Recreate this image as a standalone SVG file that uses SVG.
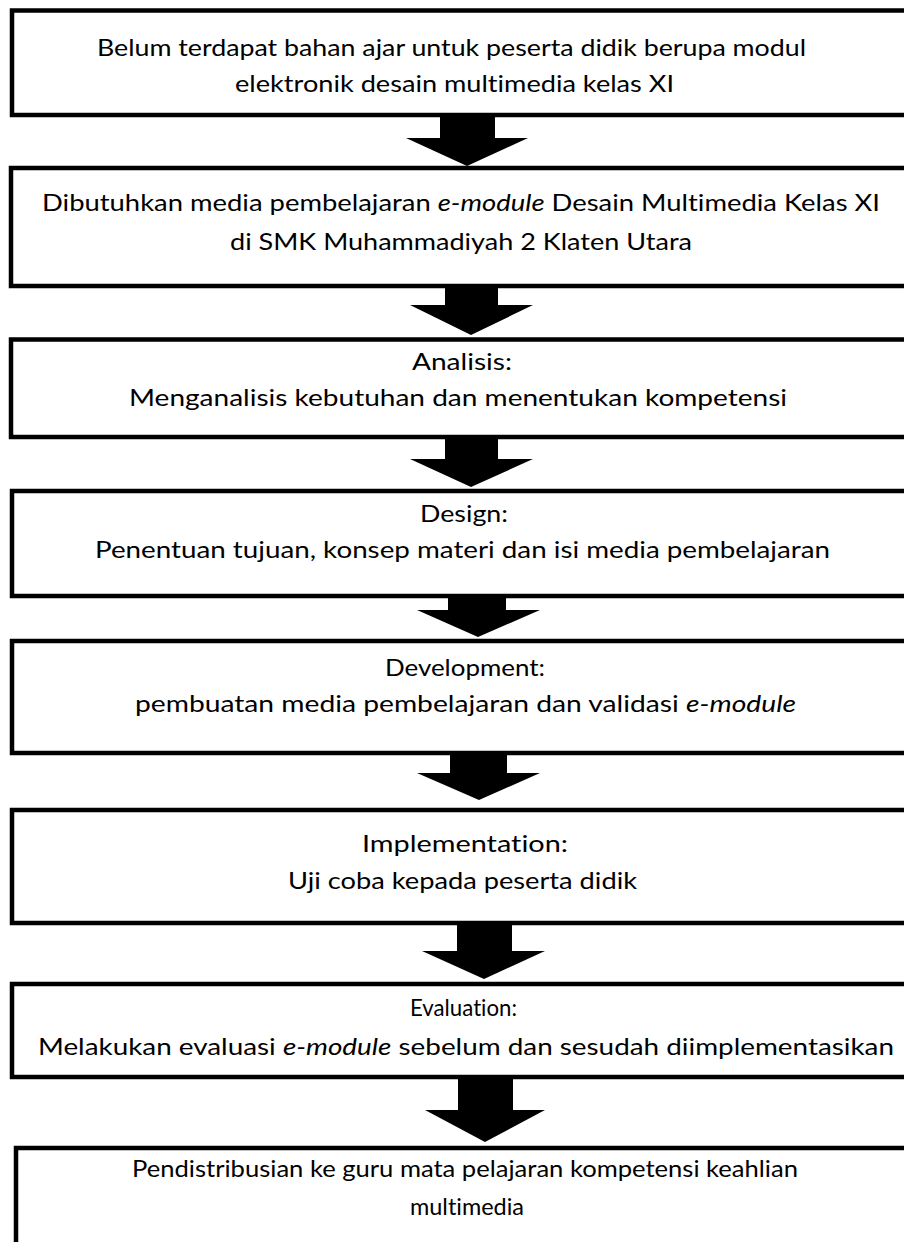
<svg xmlns="http://www.w3.org/2000/svg" width="904" height="1242" viewBox="0 0 904 1242">
<style>
.box{fill:#fff;stroke:#000;stroke-width:4.5}
.t{font-family:Lato,"Open Sans","Liberation Sans",sans-serif;font-size:23px;fill:#000;text-anchor:middle;font-variant-ligatures:none;font-feature-settings:"liga" 0,"dlig" 0}
.i{font-style:italic}
.arr{fill:#000}
</style>
<rect width="904" height="1242" fill="#fff"/>
<g id="n1"><rect class="box" x="12" y="10.5" width="900" height="104.5"/>
<text class="t" x="451.5" y="56" textLength="709" lengthAdjust="spacingAndGlyphs">Belum terdapat bahan ajar untuk peserta didik berupa modul</text>
<text class="t" x="454.5" y="92" textLength="439" lengthAdjust="spacingAndGlyphs">elektronik desain multimedia kelas XI</text></g>
<g id="n2"><rect class="box" x="11" y="168" width="901" height="118"/>
<text class="t" x="461" y="211" textLength="838" lengthAdjust="spacingAndGlyphs">Dibutuhkan media pembelajaran <tspan class="i">e-module</tspan> Desain Multimedia Kelas XI</text>
<text class="t" x="461" y="250" textLength="462" lengthAdjust="spacingAndGlyphs">di SMK Muhammadiyah 2 Klaten Utara</text></g>
<g id="n3"><rect class="box" x="11" y="339.5" width="901" height="97.5"/>
<text class="t" x="462" y="370" textLength="100" lengthAdjust="spacingAndGlyphs">Analisis:</text>
<text class="t" x="458" y="406" textLength="658" lengthAdjust="spacingAndGlyphs">Menganalisis kebutuhan dan menentukan kompetensi</text></g>
<g id="n4"><rect class="box" x="12" y="491" width="900" height="105"/>
<text class="t" x="464" y="522" textLength="88" lengthAdjust="spacingAndGlyphs">Design:</text>
<text class="t" x="462.5" y="558" textLength="735" lengthAdjust="spacingAndGlyphs">Penentuan tujuan, konsep materi dan isi media pembelajaran</text></g>
<g id="n5"><rect class="box" x="12" y="641" width="900" height="112"/>
<text class="t" x="465" y="676" textLength="160" lengthAdjust="spacingAndGlyphs">Development:</text>
<text class="t" x="465.5" y="712" textLength="661" lengthAdjust="spacingAndGlyphs">pembuatan media pembelajaran dan validasi <tspan class="i">e-module</tspan></text></g>
<g id="n6"><rect class="box" x="12" y="810" width="900" height="113"/>
<text class="t" x="465" y="852" textLength="206" lengthAdjust="spacingAndGlyphs">Implementation:</text>
<text class="t" x="462.5" y="889" textLength="349" lengthAdjust="spacingAndGlyphs">Uji coba kepada peserta didik</text></g>
<g id="n7"><rect class="box" x="12" y="984" width="900" height="93"/>
<text class="t" x="463.5" y="1016" textLength="107" lengthAdjust="spacingAndGlyphs">Evaluation:</text>
<text class="t" x="466" y="1055" textLength="856" lengthAdjust="spacingAndGlyphs">Melakukan evaluasi <tspan class="i">e-module</tspan> sebelum dan sesudah diimplementasikan</text></g>
<g id="n8"><rect class="box" x="16" y="1148" width="896" height="120"/>
<text class="t" x="465" y="1177" textLength="666" lengthAdjust="spacingAndGlyphs">Pendistribusian ke guru mata pelajaran kompetensi keahlian</text>
<text class="t" x="467" y="1215" textLength="114" lengthAdjust="spacingAndGlyphs">multimedia</text></g>
<g id="connectors">
<polygon class="arr" points="440,117 495,117 495,138 528,138 467,166 406,138 440,138"/>
<polygon class="arr" points="445,288 498,288 498,305 533,305 471,335 410,305 445,305"/>
<polygon class="arr" points="445,439 498,439 498,459 533,459 471,487 410,459 445,459"/>
<polygon class="arr" points="448,598 506,598 506,610 540,610 478,637 417,610 448,610"/>
<polygon class="arr" points="450,755 507,755 507,773 540,773 479,800 417,773 450,773"/>
<polygon class="arr" points="457,925 512,925 512,951 545,951 484,979 422,951 457,951"/>
<polygon class="arr" points="458,1079 513,1079 513,1110 545,1110 485,1142 425,1110 458,1110"/>
</g>
</svg>
